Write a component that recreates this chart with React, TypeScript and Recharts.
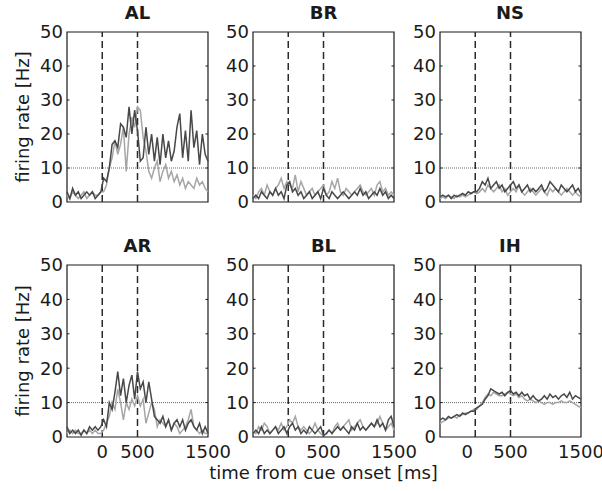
import React from "react";
import { LineChart, Line, XAxis, YAxis, ReferenceLine, ReferenceArea } from "recharts";

// bin centres, ms from cue onset
const time = [
  -500, -460, -420, -380, -340, -300, -260, -220, -180, -140, -100, -60, -20, 20, 60, 100, 140,
  180, 220, 260, 300, 340, 380, 420, 460, 500, 540, 580, 620, 660, 700, 740, 780, 820, 860, 900,
  940, 980, 1020, 1060, 1100, 1140, 1180, 1220, 1260, 1300, 1340, 1380, 1420, 1460, 1500,
];
const yTicks = [0, 10, 20, 30, 40, 50];
const xTicks = [0, 500, 1500];
const cueLines = [0, 500];
const threshold = 10;

const alDark = [
  3, 1, 4, 2, 3, 1, 2, 3, 2, 3, 1, 2, 3,
  7, 6, 10, 17, 18, 16, 23, 22, 19, 28, 20, 27, 21,
  12, 13, 22, 14, 20, 12, 19, 11, 20, 13, 18, 12, 15, 22, 26, 13, 21, 12, 27, 16, 21, 11, 20, 14, 12,
];
const alLight = [
  2, 1, 3, 2, 1, 2, 3, 1, 2, 3, 2, 2, 3,
  3, 5, 10, 13, 18, 14, 17, 22, 9, 20, 25, 22, 28,
  27, 19, 15, 9, 7, 10, 12, 6, 9, 11, 7, 9, 6, 8, 5, 7, 4, 6, 5, 4, 7, 5, 6, 4, 3,
];
const brDark = [
  1, 2, 1, 3, 2, 1, 3, 2, 4, 2, 3, 1, 5,
  6, 3, 4, 2, 3, 1, 2, 3, 1, 2, 3, 1, 4,
  2, 1, 3, 2, 1, 2, 3, 2, 1, 2, 3, 2, 4, 2, 3, 1, 2, 3, 2, 4, 2, 3, 1, 2, 1,
];
const brLight = [
  2, 1, 3, 4, 2, 5, 3, 2, 4, 5, 7, 4, 6,
  5, 4, 8, 3, 6, 4, 2, 3, 4, 2, 3, 4, 5,
  2, 3, 6, 4, 7, 3, 2, 4, 3, 2, 3, 4, 5, 3, 2, 3, 4, 2, 5, 6, 3, 4, 2, 3, 2,
];
const nsDark = [
  1.5, 2, 1.5, 2, 1, 2, 1.5, 2, 2.5, 2, 3, 2.5, 3,
  3, 4, 6, 5, 7, 4, 5, 6, 4, 5, 3, 4, 5,
  6, 4, 5, 3, 4, 5, 3, 4, 3, 4, 5, 3, 4, 6, 5, 4, 3, 5, 4, 3, 4, 5, 3, 4, 2.5,
];
const nsLight = [
  1, 1.5, 1, 2, 1.5, 1, 2, 1.5, 2, 1.5, 2, 2.5, 3,
  2.5, 3, 4, 3, 5, 4, 3, 4, 5, 3, 4, 2, 3,
  4, 3, 5, 3, 2, 3, 4, 3, 2, 3, 4, 3, 2, 4, 3, 4, 3, 2, 3, 4, 3, 2, 3, 2, 1.5,
];
const arDark = [
  3, 1, 2, 1, 2, 0.5, 2, 1, 3, 2, 3, 2, 3,
  5, 3, 10, 8, 13, 19, 12, 17, 10, 15, 18, 11, 19,
  14, 16, 10, 16, 11, 6, 5, 4, 6, 3, 5, 2, 4, 5, 3, 5, 2, 4, 5, 3, 2, 4, 1, 3, 1,
];
const arLight = [
  1, 2, 1, 2, 1, 1, 2, 1, 2, 1, 2, 1, 1,
  2, 4, 6, 10, 8, 14, 10, 5, 10, 8, 11, 9, 12,
  9, 11, 4, 7, 10, 8, 3, 5, 4, 3, 5, 2, 4, 3, 1, 2, 3, 5, 8, 3, 2, 1, 2, 1, 1,
];
const blDark = [
  1, 2, 1, 3, 1, 2, 1, 2, 3, 1, 2, 3, 1,
  3, 4, 2, 3, 1, 2, 1, 3, 2, 1, 2, 3, 0.5,
  1, 2, 1, 2, 3, 2, 3, 2, 1, 3, 2, 4, 2, 3, 2, 3, 4, 3, 5, 3, 4, 2, 5, 6, 3,
];
const blLight = [
  2, 1, 3, 2, 4, 3, 1, 2, 3, 2, 4, 2, 3,
  5, 4, 6, 3, 2, 3, 2, 1, 2, 4, 2, 1, 0.5,
  1, 2, 1, 3, 4, 2, 3, 4, 5, 2, 3, 4, 5, 3, 2, 3, 4, 3, 4, 6, 4, 2, 3, 4, 2,
];
const ihDark = [
  5, 5.5, 5, 6, 5.5, 6, 6.5, 6, 7, 6.5, 7, 7.5, 7.5,
  8.5, 9, 9.5, 11, 12, 14, 13.5, 13, 12.5, 13, 12, 13, 13.5,
  12.5, 13, 12, 13, 12, 12.5, 11, 12, 11, 10.5, 11, 12, 11, 12.5, 11.5, 12, 11, 12, 12.5, 11.5, 13, 11, 12, 11.5, 11,
];
const ihLight = [
  4, 4.5, 5, 5.5, 5.5, 6, 5.5, 6.5, 6.5, 7, 7, 7.5, 8,
  8, 9, 10, 11.5, 12.5, 12, 13, 12.5, 12, 12, 12.5, 13, 12.5,
  12, 12.5, 11.5, 12, 11, 10.5, 11, 10.5, 10, 10.5, 10, 9.5, 10, 10, 9.5, 10, 10, 10.5, 10, 10, 10.5, 10, 9.5, 9, 8.5,
];

const panels = [
  { title: "AL", dark: alDark, light: alLight, row: 0, col: 0, zeroShift: 0 },
  { title: "BR", dark: brDark, light: brLight, row: 0, col: 1, zeroShift: 0 },
  { title: "NS", dark: nsDark, light: nsLight, row: 0, col: 2, zeroShift: 0 },
  { title: "AR", dark: arDark, light: arLight, row: 1, col: 0, zeroShift: 0 },
  { title: "BL", dark: blDark, light: blLight, row: 1, col: 1, zeroShift: -8 },
  { title: "IH", dark: ihDark, light: ihLight, row: 1, col: 2, zeroShift: -8 },
];

const FONT = "'DejaVu Sans', sans-serif";
const FS = 18;
const INK = "#1a1a1a";
const colLeft = [67, 253, 439.5];
const rowTop = [32, 265];
const rowH = [170, 172];
const PW = 141;
const AXW = 45;
const XAXH = 30;
const MT = 12; // room above the frame so the "50" label is not clipped
const MR = 26; // room on the right for the "1500" label

function YTick(props: any) {
  const { x, y, payload } = props;
  const v = payload.value;
  const px = x + 4;
  return (
    <g>
      <text x={x} y={y} dy="0.36em" textAnchor="end" fontSize={FS} fill={INK} fontFamily={FONT}>
        {v}
      </text>
      {v > 0 && v < 50 && (
        <>
          <line x1={px} x2={px + 2.5} y1={y} y2={y} stroke={INK} strokeWidth={1} />
          <line x1={px + PW - 2.5} x2={px + PW} y1={y} y2={y} stroke={INK} strokeWidth={1} />
        </>
      )}
    </g>
  );
}

function Panel({ p }: { p: (typeof panels)[number] }) {
  const data = time.map((t, i) => ({ t, dark: p.dark[i], light: p.light[i] }));
  const bottom = p.row === 1;
  const h = rowH[p.row];
  const mb = bottom ? 2 : 14;
  const height = MT + h + (bottom ? XAXH : 0) + mb;
  return (
    <div style={{ position: "absolute", left: colLeft[p.col] - AXW, top: rowTop[p.row] - MT }}>
      <LineChart
        width={AXW + PW + MR}
        height={height}
        data={data}
        margin={{ top: MT, right: MR, bottom: mb, left: 0 }}
      >
        <XAxis
          type="number"
          dataKey="t"
          domain={[-500, 1500]}
          ticks={xTicks}
          interval={0}
          hide={!bottom}
          height={XAXH}
          axisLine={false}
          tickLine={false}
          tick={(tp: any) => (
            <text
              x={tp.x + (tp.payload.value === 0 ? p.zeroShift : 0)}
              y={tp.y}
              dy="0.71em"
              textAnchor="middle"
              fontSize={FS}
              fill={INK}
              fontFamily={FONT}
            >
              {tp.payload.value}
            </text>
          )}
        />
        <YAxis
          type="number"
          domain={[0, 50]}
          ticks={yTicks}
          interval={0}
          width={AXW}
          axisLine={false}
          tickLine={false}
          tickSize={0}
          tickMargin={4}
          tick={(tp: any) => <YTick {...tp} />}
        />
        <ReferenceLine y={threshold} stroke="#6a6a6a" strokeDasharray="1 1" strokeWidth={1} />
        {cueLines.map((c) => (
          <ReferenceLine key={c} x={c} stroke="#2a2a2a" strokeDasharray="7 4" strokeWidth={1.5} />
        ))}
        <Line dataKey="light" stroke="#a6a6a6" strokeWidth={1.5} dot={false} isAnimationActive={false} />
        <Line dataKey="dark" stroke="#484848" strokeWidth={1.5} dot={false} isAnimationActive={false} />
        <ReferenceArea x1={-500} x2={1500} y1={0} y2={50} fill="none" stroke={INK} strokeWidth={1.2} />
      </LineChart>
    </div>
  );
}

export default function App() {
  return (
    <div
      style={{
        position: "absolute",
        left: 0,
        top: 0,
        width: 602,
        height: 491,
        background: "#fff",
        overflow: "hidden",
      }}
    >
      {panels.map((p) => (
        <Panel key={p.title} p={p} />
      ))}
      <svg width={602} height={491} style={{ position: "absolute", left: 0, top: 0, pointerEvents: "none" }}>
        <g fontFamily={FONT} fill={INK} fontSize={FS}>
          {panels.map((p) => (
            <text
              key={p.title}
              x={colLeft[p.col] + PW / 2}
              y={p.row === 0 ? 18.5 : 251.5}
              textAnchor="middle"
              fontWeight="bold"
            >
              {p.title}
            </text>
          ))}
          {rowTop.map((t, r) => (
            <text key={r} transform={`translate(29, ${t + rowH[r] / 2}) rotate(-90)`} textAnchor="middle">
              firing rate [Hz]
            </text>
          ))}
          <text x={colLeft[1] + PW / 2} y={479} textAnchor="middle">
            time from cue onset [ms]
          </text>
        </g>
      </svg>
    </div>
  );
}
